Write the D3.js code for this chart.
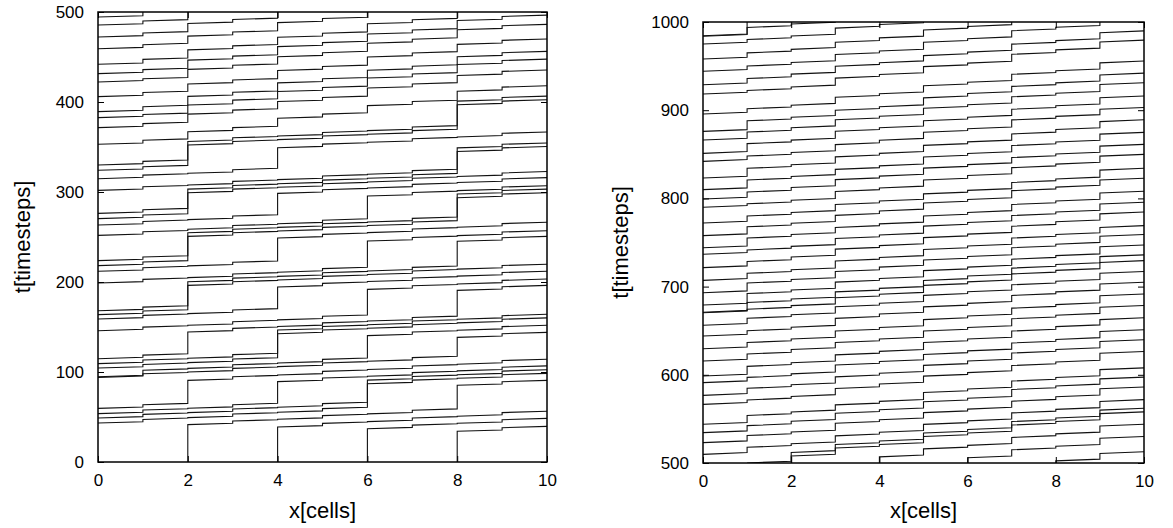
<!DOCTYPE html>
<html>
<head>
<meta charset="utf-8">
<script src="https://cdn.jsdelivr.net/npm/d3@7"></script>
<style>
  body { margin: 0; background: #fff; }
  text { font-family: "Liberation Sans", Arial, Helvetica, sans-serif; fill: #000; }
</style>
</head>
<body>
<svg id="chart" width="1173" height="528"></svg>
<script>
// Cell boundaries labelled on the x axis and the time ticks of both panels
const xTicks = [0, 2, 4, 6, 8, 10];
const leftTimeTicks = [0, 100, 200, 300, 400, 500];
const rightTimeTicks = [500, 600, 700, 800, 900, 1000];

// Timesteps needed to cross one cell
const leftTravel = 1.5;
const rightTravel = 2;

// Left panel (t = 0..500): boundary each vehicle starts from, the time it
// leaves that boundary, and its waiting time at every following boundary
const leftStartCell = [8, 6, 4, 2,
  0, 0, 0, 0,  0, 0, 0, 0, 0,  0, 0, 0, 0,  0, 0, 0, 0,
  0, 0, 0, 0,  0, 0, 0, 0,  0, 0, 0, 0,  0, 0, 0, 0,  0, 0, 0, 0];
const leftStartTime = [34.1, 37, 38.9, 41.5,
  43.3, 48.9, 53.7, 59.6,  94, 94.8, 104.4, 109.3, 114.8,
  145.9, 158.9, 163.7, 168.1,  198.9, 211.9, 218.2, 223.7,
  251.8, 263.3, 270.4, 276.3,  301.8, 314.8, 324.1, 330,
  353, 371.5, 382.6, 389.3,  406, 422.3, 431.5, 441.9,
  459.2, 472.2, 485.5, 494.4];
const leftWaits = [
  [2.5],
  [2.5, 0.5, 2.5],
  [2.5, 0.5, 2.5, 0.5, 2.5],
  [2.5, 0.5, 2.5, 0.5, 2.5, 26.2, 2.5],
  [2.5, 0.5, 2.5, 0.5, 2.5, 26.2, 2.5, 0.5, 2.5],
  [2.5, 0.5, 2.5, 0.5, 2.5, 24.6, 2.5, 0.5, 2.5],
  [2.5, 0.5, 2.5, 24.1, 2.5, 0.5, 2.5, 0.5, 2.5],
  [2.5, 25.6, 2.5, 0.5, 2.5, 0.5, 2.5, 0.5, 2.5],
  [2.5, 0.5, 2.5, 0.5, 2.5, 0.5, 2.5, 21, 2.5],
  [5.7, 0.5, 2.5, 0.5, 2.5, 24.9, 2.5, 0.5, 2.5],
  [2.5, 0.5, 2.5, 26.7, 2.5, 0.5, 2.5, 0.5, 2.5],
  [2.5, 0.5, 2.5, 25.8, 2.5, 0.5, 2.5, 0.5, 2.5],
  [2.5, 24.2, 2.5, 0.6, 2.5, 0.5, 2.5, 28.6, 2.5],
  [2.5, 0.5, 2.5, 0.5, 2.5, 28.4, 2.5, 0.5, 2.5],
  [2.5, 0.5, 2.5, 24.1, 2.5, 0.5, 2.5, 0.5, 2.5],
  [2.5, 27.1, 2.5, 0.5, 2.5, 0.5, 2.5, 0.5, 2.5],
  [2.5, 26.7, 2.5, 0.5, 2.5, 0.5, 2.5, 27.4, 2.5],
  [2.5, 0.5, 2.5, 0.5, 2.5, 29.1, 2.5, 0.5, 2.5],
  [2.5, 0.5, 2.5, 25.5, 2.5, 0.5, 2.5, 0.5, 2.5],
  [2.5, 27, 2.5, 0.5, 2.5, 0.5, 2.5, 25.5, 2.5],
  [2.5, 25.5, 2.5, 0.5, 2.5, 0.5, 2.5, 25.5, 2.5],
  [2.5, 1.4, 2.5, 0.5, 2.5, 25.3, 2.5, 0.5, 2.5],
  [2.5, 0.5, 2.5, 23.7, 2.5, 0.5, 2.5, 0.5, 2.5],
  [2.5, 23.3, 2.5, 0.5, 2.5, 0.5, 2.5, 0.5, 2.5],
  [2.5, 21.4, 2.5, 0.5, 2.5, 0.5, 2.5, 24.3, 2.5],
  [2.5, 0.5, 2.5, 0.5, 2.5, 0.5, 2.5, 23.7, 2.5],
  [2.5, 0.5, 2.5, 22.9, 2.5, 0.5, 2.5, 0.5, 2.5],
  [2.5, 22.6, 2.5, 0.5, 2.5, 0.5, 2.5, 27.3, 2.5],
  [2.5, 20.7, 2.5, 0.5, 2.5, 0.5, 2.5, 27.3, 2.5],
  [3, 8, 3, 9, 3, 8, 3, 10, 3],
  [3, 9, 3, 8, 3, 9, 3, 8, 3],
  [2, 9, 4, 8, 3, 9, 3, 9, 3],
  [4, 10, 3, 9, 3, 8, 3, 9, 3],
  [3, 8, 3, 9, 3, 9, 3, 8, 3],
  [2, 9, 3, 8, 3, 9, 3, 9, 3],
  [3, 9, 3, 9, 3, 8, 3, 9, 3],
  [4, 9, 3, 8, 3, 9, 3, 9, 3],
  [3, 8, 3, 9, 3, 9, 3, 9],
  [3, 9, 3, 9, 3, 9],
  [3, 9, 3, 9],
  [6]
];

// Right panel (t = 500..1000)
const rightStartCell = [8, 6, 4, 2, 1,
  0, 0, 0, 0, 0, 0, 0, 0, 0, 0, 0, 0, 0, 0, 0, 0, 0, 0, 0,
  0, 0, 0, 0, 0, 0, 0, 0, 0, 0, 0, 0, 0, 0, 0, 0, 0, 0, 0];
const rightStartTime = [502.4, 506, 507, 508, 500,
  509.8, 523.1, 534.4, 543.9, 566.5, 576.7, 591.1, 598.6, 615.6, 629.6,
  644, 656.1, 670.4, 671, 679.1, 693.1, 707.1, 721.5, 736.6, 744.1,
  757.8, 772.1, 789.9, 799.3, 809.9, 823.1, 842, 851.1, 866.2, 876,
  895.7, 918.4, 928.9, 944.1, 958, 975.1, 983.8, 984.4];
const rightWaits = [
  [6.3],
  [7, 2, 7],
  [7, 2, 7, 2, 7],
  [7, 2, 7, 2, 7, 2, 7],
  [10, 7, 2, 7, 2, 7, 2, 7],
  [6, 2, 7, 2, 7, 2, 7, 2, 7],
  [6, 2, 8, 2, 6, 2, 7, 3, 7],
  [6, 3, 7, 2, 7, 2, 8, 2, 6],
  [8, 2, 6, 2, 8, 2, 7, 2, 7],
  [3, 2, 7, 3, 7, 2, 6, 2, 8],
  [6, 2, 7, 2, 7, 3, 7, 2, 7],
  [4, 2, 8, 2, 6, 2, 7, 2, 7],
  [9, 2, 7, 2, 8, 2, 7, 3, 6],
  [6, 3, 6, 2, 7, 2, 8, 2, 7],
  [5, 2, 7, 2, 7, 2, 7, 2, 8],
  [4, 2, 8, 3, 6, 2, 7, 2, 7],
  [6, 2, 7, 2, 7, 2, 6, 2, 7],
  [2, 2, 7, 2, 8, 2, 7, 2, 7],
  [9, 2, 6, 2, 7, 3, 7, 2, 7],
  [11, 2, 7, 2, 7, 2, 7, 2, 8],
  [9, 2, 7, 3, 6, 2, 8, 2, 7],
  [6, 2, 8, 2, 7, 2, 7, 2, 6],
  [5, 3, 7, 2, 7, 2, 7, 3, 7],
  [3, 2, 7, 2, 8, 2, 6, 2, 7],
  [9, 2, 6, 2, 7, 2, 7, 2, 7],
  [8, 2, 7, 3, 7, 2, 8, 2, 6],
  [6, 2, 7, 2, 6, 2, 7, 2, 8],
  [2, 2, 8, 2, 7, 3, 7, 2, 7],
  [6, 3, 7, 2, 7, 2, 6, 2, 7],
  [9, 2, 6, 2, 8, 2, 7, 2, 7],
  [9, 2, 7, 2, 7, 2, 7, 3, 7],
  [4, 2, 7, 3, 7, 2, 8, 2, 6],
  [9, 2, 8, 2, 6, 2, 7, 2, 7],
  [7, 3, 7, 2, 7, 2, 7, 2, 8],
  [10, 2, 6, 2, 8, 3, 6, 2, 7],
  [4, 2, 7, 2, 7, 2, 7, 2, 7],
  [2, 2, 8, 2, 7, 2, 8, 3, 7],
  [5, 3, 7, 2, 6, 2, 7, 2, 7],
  [4, 2, 7, 2, 8, 2, 7, 2, 8],
  [5, 2, 6, 3, 7, 2, 7, 2, 7],
  [3, 2, 7, 2, 7, 2, 8, 2, 7],
  [8, 2, 7, 2, 7, 2, 7, 2, 7],
  [20]
];

const svg = d3.select("#chart");

// Builds the staircase of one vehicle: cross a cell, wait at the boundary, repeat
function trajectory(startCell, startTime, waits, travel, tMin) {
  const pts = [];
  let k = startCell, t = startTime;
  if (k > 0) pts.push([k, tMin]);
  pts.push([k, t]);
  for (const w of waits) {
    t += travel; k += 1;
    pts.push([k, t]);
    t += w;
    pts.push([k, t]);
  }
  if (k < 10) pts.push([k + 1, t + travel]);
  return pts;
}

function drawPanel(cfg) {
  const x = d3.scaleLinear().domain([0, 10]).range([cfg.left, cfg.right]);
  const y = d3.scaleLinear().domain(cfg.tDomain).range([cfg.bottom, cfg.top]);
  const g = svg.append("g");
  const clipId = "clip-" + cfg.name;
  svg.append("clipPath").attr("id", clipId)
    .append("rect")
    .attr("x", cfg.left).attr("y", cfg.top)
    .attr("width", cfg.right - cfg.left).attr("height", cfg.bottom - cfg.top);

  const paths = cfg.startTime.map((t0, i) =>
    trajectory(cfg.startCell[i], t0, cfg.waits[i], cfg.travel, cfg.tDomain[0]));
  const line = d3.line().x(d => x(d[0])).y(d => y(d[1]));
  g.append("g").attr("clip-path", `url(#${clipId})`)
    .selectAll("path").data(paths).join("path")
    .attr("d", line)
    .attr("fill", "none")
    .attr("stroke", "#111")
    .attr("stroke-width", 1.1);

  // Axes with inward ticks on all four sides
  const tickLen = 6;
  g.append("g").attr("transform", `translate(0,${cfg.bottom})`)
    .call(d3.axisBottom(x).tickValues(xTicks).tickSize(-tickLen).tickPadding(tickLen + 6))
    .call(a => a.select(".domain").remove());
  g.append("g").attr("transform", `translate(0,${cfg.top})`)
    .call(d3.axisTop(x).tickValues(xTicks).tickSize(-tickLen).tickFormat(""))
    .call(a => a.select(".domain").remove());
  g.append("g").attr("transform", `translate(${cfg.left},0)`)
    .call(d3.axisLeft(y).tickValues(cfg.ticks).tickFormat(d3.format("d"))
      .tickSize(-tickLen).tickPadding(tickLen + 8))
    .call(a => a.select(".domain").remove());
  g.append("g").attr("transform", `translate(${cfg.right},0)`)
    .call(d3.axisRight(y).tickValues(cfg.ticks).tickSize(-tickLen).tickFormat(""))
    .call(a => a.select(".domain").remove());
  g.selectAll(".tick text").attr("font-size", 17).attr("fill", "#000")
    .attr("font-family", '"Liberation Sans", Arial, sans-serif');
  g.selectAll(".tick line").attr("stroke", "#000");

  g.append("rect")
    .attr("x", cfg.left).attr("y", cfg.top)
    .attr("width", cfg.right - cfg.left).attr("height", cfg.bottom - cfg.top)
    .attr("fill", "none").attr("stroke", "#000").attr("stroke-width", 1.5);

  g.append("text")
    .attr("x", (cfg.left + cfg.right) / 2).attr("y", 518)
    .attr("text-anchor", "middle").attr("font-size", 22)
    .text("x[cells]");
  g.append("text")
    .attr("transform", `translate(${cfg.labelX},${(cfg.top + cfg.bottom) / 2}) rotate(-90)`)
    .attr("text-anchor", "middle").attr("font-size", 22)
    .text("t[timesteps]");
}

drawPanel({ name: "a", left: 98, right: 547, top: 12, bottom: 462,
  tDomain: [0, 500], ticks: leftTimeTicks, labelX: 30,
  startCell: leftStartCell, startTime: leftStartTime, waits: leftWaits, travel: leftTravel });
drawPanel({ name: "b", left: 703, right: 1144, top: 22, bottom: 463,
  tDomain: [500, 1000], ticks: rightTimeTicks, labelX: 628,
  startCell: rightStartCell, startTime: rightStartTime, waits: rightWaits, travel: rightTravel });
</script>
</body>
</html>
